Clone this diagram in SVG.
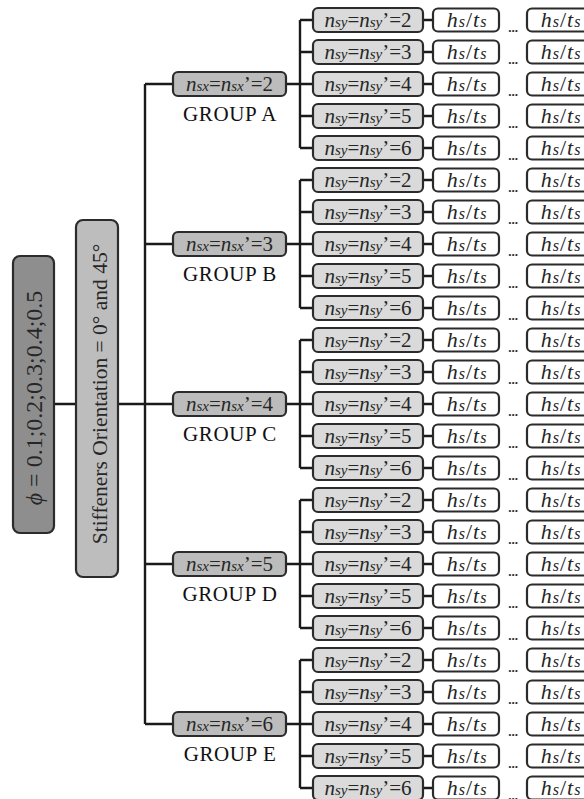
<svg xmlns="http://www.w3.org/2000/svg" width="584" height="799" viewBox="0 0 584 799">
<style>
.bx{stroke:#2b2b2b;stroke-width:2.2}
.phi{fill:#8e8e8e}
.stf{fill:#bdbdbd}
.nsx{fill:#bcbcbc}
.nsy{fill:#dadada}
.hs{fill:#ffffff}
.t{font-family:"Liberation Serif","Times New Roman",serif;fill:#262626}
.lab{font-size:21px;text-anchor:middle}
.i{font-style:italic}
.s{font-style:italic;font-size:15px}
.hl{font-size:22px;text-anchor:middle;letter-spacing:1px}
.hl .s{font-size:16px}
.grp{font-size:21px;text-anchor:middle;fill:#111;letter-spacing:0.6px}
.dots{font-size:13px;font-weight:bold;text-anchor:middle}
.c{stroke:#1a1a1a;stroke-width:2.4;fill:none}
</style>
<rect width="584" height="799" fill="#fff"/>
<g id="connectors" class="c">
<path d="M54 404H76M118 404H145M145 84V724"/>
<path d="M145 84H173M145 244H173M145 404H173M145 564H173M145 724H173"/>
<path d="M286 84H300M300 20V148M300 20H313M300 52H313M300 84H313M300 116H313M300 148H313"/>
<path d="M286 244H300M300 180V308M300 180H313M300 212H313M300 244H313M300 276H313M300 308H313"/>
<path d="M286 404H300M300 340V468M300 340H313M300 372H313M300 404H313M300 436H313M300 468H313"/>
<path d="M286 564H300M300 500V628M300 500H313M300 532H313M300 564H313M300 596H313M300 628H313"/>
<path d="M286 724H300M300 660V788M300 660H313M300 692H313M300 724H313M300 756H313M300 788H313"/>
<path d="M423 20H433M423 52H433M423 84H433M423 116H433M423 148H433"/>
<path d="M423 180H433M423 212H433M423 244H433M423 276H433M423 308H433"/>
<path d="M423 340H433M423 372H433M423 404H433M423 436H433M423 468H433"/>
<path d="M423 500H433M423 532H433M423 564H433M423 596H433M423 628H433"/>
<path d="M423 660H433M423 692H433M423 724H433M423 756H433M423 788H433"/>
</g>
<g id="phi">
<rect class="bx phi" x="13" y="256" width="41" height="277" rx="7"/>
<text class="t" font-size="24" text-anchor="middle" transform="translate(42 398) rotate(-90)"><tspan class="i">ϕ</tspan> = 0.1;0.2;0.3;0.4;0.5</text>
</g>
<g id="stiffeners">
<rect class="bx stf" x="76" y="220" width="42" height="357" rx="7"/>
<text class="t" font-size="21.5" text-anchor="middle" transform="translate(107 394) rotate(-90)">Stiffeners Orientation = 0° and 45°</text>
</g>
<g id="groupA">
<rect class="bx nsx" x="173" y="72" width="113" height="24" rx="5"/>
<text class="t lab" x="229.5" y="91"><tspan class="i">n</tspan><tspan class="s">sx</tspan>=<tspan class="i">n</tspan><tspan class="s">sx</tspan>’=2</text>
<text class="t grp" x="230" y="121">GROUP A</text>
</g>
<g id="groupB">
<rect class="bx nsx" x="173" y="232" width="113" height="24" rx="5"/>
<text class="t lab" x="229.5" y="251"><tspan class="i">n</tspan><tspan class="s">sx</tspan>=<tspan class="i">n</tspan><tspan class="s">sx</tspan>’=3</text>
<text class="t grp" x="230" y="281">GROUP B</text>
</g>
<g id="groupC">
<rect class="bx nsx" x="173" y="392" width="113" height="24" rx="5"/>
<text class="t lab" x="229.5" y="411"><tspan class="i">n</tspan><tspan class="s">sx</tspan>=<tspan class="i">n</tspan><tspan class="s">sx</tspan>’=4</text>
<text class="t grp" x="230" y="441">GROUP C</text>
</g>
<g id="groupD">
<rect class="bx nsx" x="173" y="552" width="113" height="24" rx="5"/>
<text class="t lab" x="229.5" y="571"><tspan class="i">n</tspan><tspan class="s">sx</tspan>=<tspan class="i">n</tspan><tspan class="s">sx</tspan>’=5</text>
<text class="t grp" x="230" y="601">GROUP D</text>
</g>
<g id="groupE">
<rect class="bx nsx" x="173" y="712" width="113" height="24" rx="5"/>
<text class="t lab" x="229.5" y="731"><tspan class="i">n</tspan><tspan class="s">sx</tspan>=<tspan class="i">n</tspan><tspan class="s">sx</tspan>’=6</text>
<text class="t grp" x="230" y="761">GROUP E</text>
</g>
<defs>
<g id="hsts">
<rect class="bx hs" x="433" y="-11.5" width="66" height="23" rx="5"/>
<text class="t hl" x="467" y="7"><tspan class="i">h</tspan><tspan class="s">s</tspan>/<tspan class="i">t</tspan><tspan class="s">s</tspan></text>
<text class="t dots" x="513" y="12">...</text>
<rect class="bx hs" x="527" y="-11.5" width="66" height="23" rx="5"/>
<text class="t hl" x="561" y="7"><tspan class="i">h</tspan><tspan class="s">s</tspan>/<tspan class="i">t</tspan><tspan class="s">s</tspan></text>
</g>
<rect id="nsyb" class="bx nsy" x="313" y="-12" width="110" height="24" rx="5"/>
</defs>
<g id="rowsA">
<use href="#nsyb" y="20"/><text class="t lab" x="368" y="27"><tspan class="i">n</tspan><tspan class="s">sy</tspan>=<tspan class="i">n</tspan><tspan class="s">sy</tspan>’=2</text><use href="#hsts" y="20"/>
<use href="#nsyb" y="52"/><text class="t lab" x="368" y="59"><tspan class="i">n</tspan><tspan class="s">sy</tspan>=<tspan class="i">n</tspan><tspan class="s">sy</tspan>’=3</text><use href="#hsts" y="52"/>
<use href="#nsyb" y="84"/><text class="t lab" x="368" y="91"><tspan class="i">n</tspan><tspan class="s">sy</tspan>=<tspan class="i">n</tspan><tspan class="s">sy</tspan>’=4</text><use href="#hsts" y="84"/>
<use href="#nsyb" y="116"/><text class="t lab" x="368" y="123"><tspan class="i">n</tspan><tspan class="s">sy</tspan>=<tspan class="i">n</tspan><tspan class="s">sy</tspan>’=5</text><use href="#hsts" y="116"/>
<use href="#nsyb" y="148"/><text class="t lab" x="368" y="155"><tspan class="i">n</tspan><tspan class="s">sy</tspan>=<tspan class="i">n</tspan><tspan class="s">sy</tspan>’=6</text><use href="#hsts" y="148"/>
</g>
<g id="rowsB">
<use href="#nsyb" y="180"/><text class="t lab" x="368" y="187"><tspan class="i">n</tspan><tspan class="s">sy</tspan>=<tspan class="i">n</tspan><tspan class="s">sy</tspan>’=2</text><use href="#hsts" y="180"/>
<use href="#nsyb" y="212"/><text class="t lab" x="368" y="219"><tspan class="i">n</tspan><tspan class="s">sy</tspan>=<tspan class="i">n</tspan><tspan class="s">sy</tspan>’=3</text><use href="#hsts" y="212"/>
<use href="#nsyb" y="244"/><text class="t lab" x="368" y="251"><tspan class="i">n</tspan><tspan class="s">sy</tspan>=<tspan class="i">n</tspan><tspan class="s">sy</tspan>’=4</text><use href="#hsts" y="244"/>
<use href="#nsyb" y="276"/><text class="t lab" x="368" y="283"><tspan class="i">n</tspan><tspan class="s">sy</tspan>=<tspan class="i">n</tspan><tspan class="s">sy</tspan>’=5</text><use href="#hsts" y="276"/>
<use href="#nsyb" y="308"/><text class="t lab" x="368" y="315"><tspan class="i">n</tspan><tspan class="s">sy</tspan>=<tspan class="i">n</tspan><tspan class="s">sy</tspan>’=6</text><use href="#hsts" y="308"/>
</g>
<g id="rowsC">
<use href="#nsyb" y="340"/><text class="t lab" x="368" y="347"><tspan class="i">n</tspan><tspan class="s">sy</tspan>=<tspan class="i">n</tspan><tspan class="s">sy</tspan>’=2</text><use href="#hsts" y="340"/>
<use href="#nsyb" y="372"/><text class="t lab" x="368" y="379"><tspan class="i">n</tspan><tspan class="s">sy</tspan>=<tspan class="i">n</tspan><tspan class="s">sy</tspan>’=3</text><use href="#hsts" y="372"/>
<use href="#nsyb" y="404"/><text class="t lab" x="368" y="411"><tspan class="i">n</tspan><tspan class="s">sy</tspan>=<tspan class="i">n</tspan><tspan class="s">sy</tspan>’=4</text><use href="#hsts" y="404"/>
<use href="#nsyb" y="436"/><text class="t lab" x="368" y="443"><tspan class="i">n</tspan><tspan class="s">sy</tspan>=<tspan class="i">n</tspan><tspan class="s">sy</tspan>’=5</text><use href="#hsts" y="436"/>
<use href="#nsyb" y="468"/><text class="t lab" x="368" y="475"><tspan class="i">n</tspan><tspan class="s">sy</tspan>=<tspan class="i">n</tspan><tspan class="s">sy</tspan>’=6</text><use href="#hsts" y="468"/>
</g>
<g id="rowsD">
<use href="#nsyb" y="500"/><text class="t lab" x="368" y="507"><tspan class="i">n</tspan><tspan class="s">sy</tspan>=<tspan class="i">n</tspan><tspan class="s">sy</tspan>’=2</text><use href="#hsts" y="500"/>
<use href="#nsyb" y="532"/><text class="t lab" x="368" y="539"><tspan class="i">n</tspan><tspan class="s">sy</tspan>=<tspan class="i">n</tspan><tspan class="s">sy</tspan>’=3</text><use href="#hsts" y="532"/>
<use href="#nsyb" y="564"/><text class="t lab" x="368" y="571"><tspan class="i">n</tspan><tspan class="s">sy</tspan>=<tspan class="i">n</tspan><tspan class="s">sy</tspan>’=4</text><use href="#hsts" y="564"/>
<use href="#nsyb" y="596"/><text class="t lab" x="368" y="603"><tspan class="i">n</tspan><tspan class="s">sy</tspan>=<tspan class="i">n</tspan><tspan class="s">sy</tspan>’=5</text><use href="#hsts" y="596"/>
<use href="#nsyb" y="628"/><text class="t lab" x="368" y="635"><tspan class="i">n</tspan><tspan class="s">sy</tspan>=<tspan class="i">n</tspan><tspan class="s">sy</tspan>’=6</text><use href="#hsts" y="628"/>
</g>
<g id="rowsE">
<use href="#nsyb" y="660"/><text class="t lab" x="368" y="667"><tspan class="i">n</tspan><tspan class="s">sy</tspan>=<tspan class="i">n</tspan><tspan class="s">sy</tspan>’=2</text><use href="#hsts" y="660"/>
<use href="#nsyb" y="692"/><text class="t lab" x="368" y="699"><tspan class="i">n</tspan><tspan class="s">sy</tspan>=<tspan class="i">n</tspan><tspan class="s">sy</tspan>’=3</text><use href="#hsts" y="692"/>
<use href="#nsyb" y="724"/><text class="t lab" x="368" y="731"><tspan class="i">n</tspan><tspan class="s">sy</tspan>=<tspan class="i">n</tspan><tspan class="s">sy</tspan>’=4</text><use href="#hsts" y="724"/>
<use href="#nsyb" y="756"/><text class="t lab" x="368" y="763"><tspan class="i">n</tspan><tspan class="s">sy</tspan>=<tspan class="i">n</tspan><tspan class="s">sy</tspan>’=5</text><use href="#hsts" y="756"/>
<use href="#nsyb" y="788"/><text class="t lab" x="368" y="795"><tspan class="i">n</tspan><tspan class="s">sy</tspan>=<tspan class="i">n</tspan><tspan class="s">sy</tspan>’=6</text><use href="#hsts" y="788"/>
</g>
</svg>
